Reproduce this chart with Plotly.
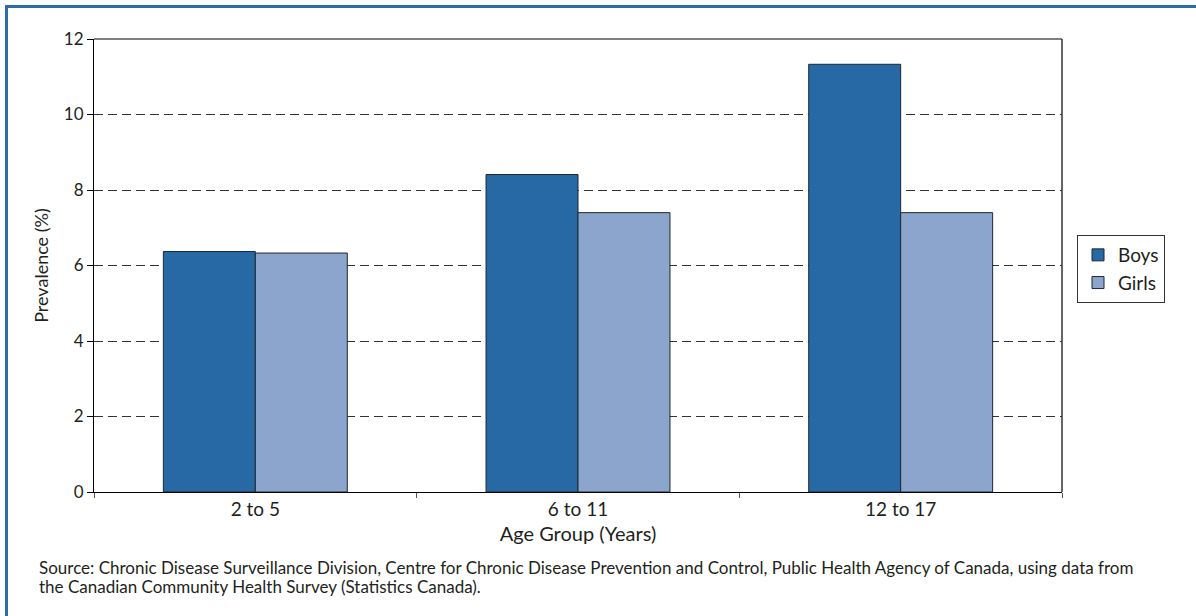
import plotly.graph_objects as go

# Prevalence by age group and sex
age_groups = ["2 to 5", "6 to 11", "12 to 17"]
boys = [6.37, 8.41, 11.33]
girls = [6.33, 7.40, 7.40]
y_ticks = [0, 2, 4, 6, 8, 10, 12]

source_lines = [
    "Source: Chronic Disease Surveillance Division, Centre for Chronic Disease Prevention "
    "and Control, Public Health Agency of Canada, using data from",
    "the Canadian Community Health Survey (Statistics Canada).",
]

FONT = "Lato"
TEXT = "#231f20"

W, H = 1196, 616
L, R, T, B = 94, 134, 39, 124
PW, PH = W - L - R, H - T - B


def px_x(x):
    return (x - L) / PW


def px_y(y):
    return (H - B - y) / PH


fig = go.Figure()
fig.add_bar(x=age_groups, y=boys, name="Boys",
            marker=dict(color="#2769a5", line=dict(color="#1c2833", width=1)))
fig.add_bar(x=age_groups, y=girls, name="Girls",
            marker=dict(color="#8ba5cc", line=dict(color="#1c2833", width=1)))

fig.update_layout(
    width=W, height=H,
    margin=dict(l=L, r=R, t=T, b=B, autoexpand=False),
    paper_bgcolor="white", plot_bgcolor="white",
    font=dict(family=FONT, size=17, color=TEXT),
    barmode="group", bargap=0.43, bargroupgap=0,
    legend=dict(x=px_x(1077), y=px_y(235), xanchor="left", yanchor="top",
                bordercolor="#333333", borderwidth=1, bgcolor="white",
                font=dict(size=19, color=TEXT), itemclick=False),
    showlegend=True,
)

fig.update_xaxes(
    type="category", tickson="boundaries", ticks="outside", ticklen=5,
    tickcolor="#555555", tickwidth=1,
    showline=True, linecolor="#000000", linewidth=1,
    showgrid=False, zeroline=False,
    tickfont=dict(size=19, color=TEXT),
    title=dict(text="Age Group (Years)", font=dict(size=20, color=TEXT), standoff=8),
)

fig.update_yaxes(
    range=[0, 12], tickvals=y_ticks, ticks="outside", ticklen=6,
    tickcolor="#000000", tickwidth=1,
    showline=True, linecolor="#000000", linewidth=1,
    showgrid=True, gridcolor="#333333", gridwidth=1, griddash="9px,5px",
    zeroline=False,
    tickfont=dict(size=17, color=TEXT),
    title=dict(text="Prevalence (%)", font=dict(size=18, color=TEXT), standoff=10),
)

# Plot frame: grey top edge, dark right edge
fig.add_shape(type="line", xref="paper", yref="paper", x0=0, x1=1, y0=1, y1=1,
              line=dict(color="#7f7f7f", width=2))
fig.add_shape(type="line", xref="paper", yref="paper", x0=1, x1=1, y0=0, y1=1,
              line=dict(color="#333333", width=1.5))

# Outer figure border
fig.add_shape(type="rect", xref="paper", yref="paper",
              x0=px_x(6.5), x1=px_x(1300), y0=px_y(700), y1=px_y(6.5),
              line=dict(color="#2e6ca9", width=3), fillcolor="rgba(0,0,0,0)")

# Source note, one annotation per line
for i, line in enumerate(source_lines):
    fig.add_annotation(text=line, xref="paper", yref="paper",
                       x=px_x(37), y=px_y(567 + 19.5 * i), xanchor="left", yanchor="middle",
                       align="left", showarrow=False,
                       font=dict(family=FONT, size=17, color=TEXT))

fig.write_html("out.html")
